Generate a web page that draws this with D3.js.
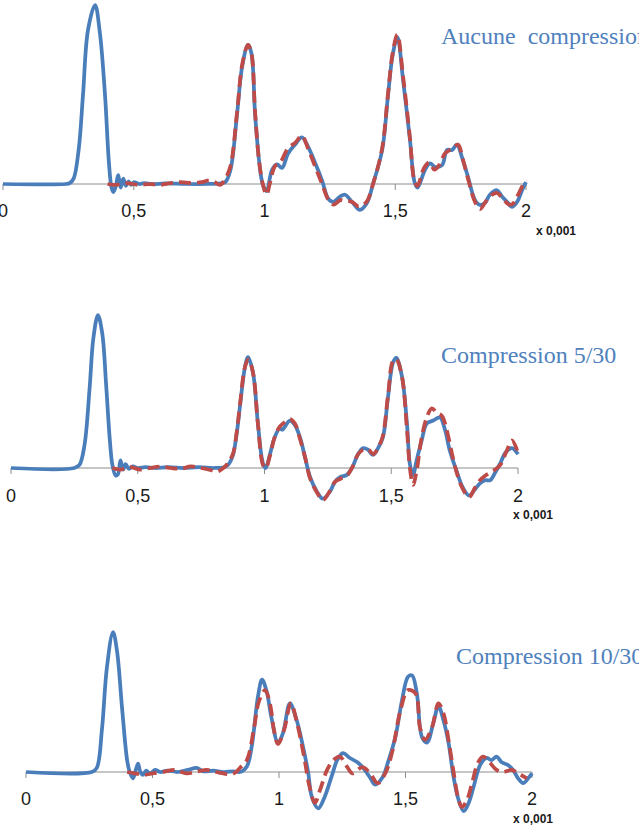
<!DOCTYPE html>
<html>
<head>
<meta charset="utf-8">
<script src="https://cdn.jsdelivr.net/npm/d3@7"></script>
<style>
  body { margin: 0; background: #fff; }
  svg { display: block; }
</style>
</head>
<body>
<script>
const width = 639;
const height = 839;

// data: x in units of 0,001 ; y relative to the first peak of each panel
const xTicks = [0, 0.5, 1, 1.5, 2];
const tickLabels = ["0", "0,5", "1", "1,5", "2"];
const unitLabel = "x 0,001";
const titles = ["Aucune  compression", "Compression 5/30", "Compression 10/30"];

const blueNone = [[0,0],[0.24,0],[0.255,0.005],[0.27,0.03],[0.29,0.2],[0.306,0.5],[0.325,0.86],[0.352,1.0],[0.37,0.85],[0.39,0.5],[0.405,0.12],[0.415,-0.02],[0.422,-0.045],[0.432,-0.01],[0.44,0.05],[0.45,-0.02],[0.46,0.03],[0.47,-0.01],[0.48,0.015],[0.49,-0.005],[0.50,0.01],[0.52,0],[0.54,0.005],[0.57,0],[0.62,0.003],[0.70,0],[0.78,0],[0.84,0.005],[0.85,0.01],[0.87,0.08],[0.895,0.39],[0.915,0.66],[0.937,0.777],[0.95,0.73],[0.964,0.39],[0.98,0.12],[0.993,0.0],[1.008,-0.04],[1.029,0.08],[1.048,0.11],[1.067,0.09],[1.09,0.17],[1.117,0.22],[1.143,0.26],[1.166,0.21],[1.193,0.12],[1.22,0.02],[1.243,-0.08],[1.262,-0.10],[1.289,-0.07],[1.308,-0.06],[1.335,-0.10],[1.365,-0.145],[1.392,-0.105],[1.415,0.0],[1.45,0.19],[1.472,0.49],[1.49,0.72],[1.508,0.82],[1.53,0.58],[1.556,0.25],[1.574,0.01],[1.585,-0.02],[1.614,0.08],[1.633,0.115],[1.652,0.095],[1.679,0.105],[1.698,0.19],[1.717,0.19],[1.736,0.22],[1.755,0.15],[1.778,0.04],[1.805,-0.09],[1.824,-0.117],[1.843,-0.105],[1.862,-0.06],[1.889,-0.035],[1.908,-0.07],[1.931,-0.105],[1.946,-0.128],[1.966,-0.10],[1.985,-0.035],[2.0,0.01]];
const redNone = [[0.40,0],[0.43,-0.005],[0.47,0.005],[0.52,-0.005],[0.56,0],[0.60,-0.005],[0.64,0.005],[0.68,0.01],[0.72,0.005],[0.76,0.01],[0.79,0.02],[0.81,0.01],[0.83,-0.005],[0.85,0.03],[0.87,0.1],[0.895,0.4],[0.915,0.67],[0.937,0.777],[0.95,0.73],[0.964,0.4],[0.98,0.12],[0.995,-0.01],[1.008,-0.06],[1.02,0.0],[1.04,0.1],[1.06,0.12],[1.09,0.2],[1.117,0.23],[1.143,0.27],[1.166,0.2],[1.193,0.1],[1.22,0.0],[1.245,-0.09],[1.265,-0.115],[1.29,-0.09],[1.31,-0.095],[1.335,-0.1],[1.36,-0.125],[1.39,-0.1],[1.415,0.0],[1.45,0.2],[1.472,0.5],[1.49,0.73],[1.508,0.835],[1.53,0.6],[1.556,0.26],[1.573,0.02],[1.585,-0.01],[1.61,0.09],[1.63,0.12],[1.65,0.08],[1.67,0.11],[1.69,0.17],[1.72,0.2],[1.74,0.22],[1.76,0.13],[1.78,0.02],[1.805,-0.1],[1.825,-0.14],[1.845,-0.1],[1.87,-0.06],[1.89,-0.05],[1.91,-0.08],[1.935,-0.115],[1.95,-0.11],[1.97,-0.06],[1.99,0.0],[2.0,0.02]];

const blue5 = [[0,0],[0.25,0],[0.27,0.02],[0.29,0.15],[0.31,0.52],[0.325,0.85],[0.343,1.0],[0.36,0.88],[0.375,0.55],[0.39,0.18],[0.40,0.02],[0.413,-0.05],[0.422,-0.04],[0.432,0.05],[0.442,-0.01],[0.452,0.025],[0.465,-0.005],[0.48,0.01],[0.50,0],[0.53,0.005],[0.57,0],[0.62,0.005],[0.68,0],[0.74,0.005],[0.80,0],[0.84,0.005],[0.856,0.02],[0.875,0.08],[0.89,0.22],[0.903,0.4],[0.923,0.66],[0.935,0.725],[0.955,0.62],[0.974,0.29],[0.994,0.03],[1.005,0.0],[1.02,0.08],[1.04,0.2],[1.06,0.26],[1.07,0.25],[1.10,0.31],[1.12,0.28],[1.14,0.2],[1.16,0.07],[1.18,-0.06],[1.207,-0.155],[1.23,-0.2],[1.258,-0.155],[1.278,-0.09],[1.298,-0.06],[1.325,-0.045],[1.345,0.0],[1.369,0.09],[1.389,0.13],[1.408,0.12],[1.428,0.085],[1.448,0.13],[1.467,0.2],[1.487,0.46],[1.507,0.69],[1.52,0.72],[1.542,0.6],[1.562,0.29],[1.574,0.02],[1.586,-0.045],[1.60,0.05],[1.62,0.18],[1.64,0.29],[1.665,0.31],[1.692,0.33],[1.712,0.25],[1.73,0.12],[1.76,-0.03],[1.78,-0.12],[1.807,-0.18],[1.83,-0.14],[1.85,-0.1],[1.87,-0.08],[1.89,-0.08],[1.91,-0.03],[1.93,0.03],[1.95,0.10],[1.976,0.13],[2.0,0.09]];
const red5 = [[0.40,0],[0.43,-0.01],[0.47,0.005],[0.51,-0.01],[0.55,0.0],[0.59,0.01],[0.63,0],[0.67,-0.005],[0.71,0.01],[0.75,0.0],[0.79,-0.015],[0.81,-0.025],[0.83,-0.01],[0.85,0.02],[0.875,0.09],[0.89,0.23],[0.903,0.41],[0.923,0.66],[0.937,0.71],[0.955,0.62],[0.974,0.29],[0.994,0.02],[1.005,0.0],[1.02,0.07],[1.04,0.2],[1.06,0.27],[1.08,0.3],[1.10,0.32],[1.12,0.29],[1.14,0.19],[1.16,0.07],[1.18,-0.07],[1.207,-0.16],[1.23,-0.21],[1.258,-0.15],[1.278,-0.09],[1.30,-0.07],[1.325,-0.05],[1.345,0.0],[1.369,0.09],[1.389,0.12],[1.41,0.12],[1.43,0.09],[1.45,0.14],[1.467,0.21],[1.487,0.47],[1.507,0.7],[1.52,0.71],[1.542,0.6],[1.562,0.25],[1.575,-0.02],[1.586,-0.11],[1.60,-0.02],[1.62,0.2],[1.64,0.33],[1.66,0.39],[1.68,0.36],[1.70,0.34],[1.72,0.24],[1.74,0.09],[1.76,-0.04],[1.78,-0.13],[1.807,-0.19],[1.83,-0.13],[1.85,-0.08],[1.87,-0.05],[1.89,-0.03],[1.91,-0.01],[1.93,0.02],[1.955,0.11],[1.976,0.18],[2.0,0.1]];

const blue10 = [[0,0],[0.26,0],[0.28,0.03],[0.30,0.3],[0.32,0.75],[0.344,1.0],[0.36,0.86],[0.38,0.45],[0.40,0.08],[0.41,0.0],[0.423,-0.045],[0.433,0.01],[0.443,0.06],[0.452,0.0],[0.462,-0.02],[0.475,0.01],[0.49,-0.01],[0.51,0.015],[0.53,0.0],[0.56,0.01],[0.6,0.0],[0.64,0.015],[0.675,0.03],[0.70,0.005],[0.74,0.01],[0.78,0.0],[0.82,0.005],[0.846,0.0],[0.873,0.04],[0.892,0.18],[0.917,0.54],[0.933,0.66],[0.952,0.57],[0.97,0.39],[0.996,0.21],[1.016,0.28],[1.043,0.49],[1.07,0.37],[1.095,0.18],[1.115,0.0],[1.13,-0.18],[1.155,-0.26],[1.18,-0.18],[1.21,-0.02],[1.23,0.085],[1.253,0.135],[1.28,0.10],[1.31,0.07],[1.33,0.035],[1.36,-0.04],[1.38,-0.09],[1.41,-0.035],[1.43,0.065],[1.46,0.25],[1.486,0.51],[1.51,0.68],[1.526,0.69],[1.545,0.56],[1.565,0.25],[1.585,0.21],[1.61,0.35],[1.63,0.47],[1.65,0.37],[1.67,0.21],[1.69,-0.035],[1.71,-0.2],[1.73,-0.28],[1.75,-0.22],[1.77,-0.1],[1.795,0.05],[1.82,0.1],[1.84,0.085],[1.86,0.11],[1.88,0.07],[1.905,0.05],[1.925,0.015],[1.945,-0.045],[1.965,-0.08],[1.985,-0.045],[2.0,-0.01]];
const red10 = [[0.40,0],[0.43,-0.01],[0.47,-0.02],[0.50,-0.01],[0.54,0.0],[0.59,0.015],[0.635,-0.01],[0.68,0.005],[0.715,0.015],[0.75,0.0],[0.78,-0.01],[0.806,-0.02],[0.83,0.0],[0.846,0.03],[0.873,0.085],[0.90,0.3],[0.92,0.5],[0.945,0.585],[0.965,0.48],[0.98,0.3],[0.996,0.2],[1.02,0.3],[1.047,0.49],[1.07,0.36],[1.10,0.1],[1.12,-0.1],[1.142,-0.22],[1.162,-0.13],[1.19,0.015],[1.215,0.085],[1.24,0.11],[1.27,0.035],[1.29,-0.01],[1.33,0.035],[1.36,-0.01],[1.39,-0.08],[1.42,-0.01],[1.447,0.14],[1.48,0.44],[1.51,0.585],[1.54,0.56],[1.557,0.32],[1.577,0.23],[1.605,0.32],[1.63,0.49],[1.65,0.42],[1.67,0.23],[1.69,0.0],[1.71,-0.2],[1.723,-0.25],[1.743,-0.2],[1.763,-0.08],[1.786,0.065],[1.806,0.11],[1.834,0.065],[1.86,0.015],[1.885,0],[1.92,0.015],[1.945,-0.01],[1.98,-0.045]];

const blueSeries = [blueNone, blue5, blue10];
const redSeries = [redNone, red5, red10];

// layout of the three panels (pixels)
const panels = [
  { x0: 3, x1: 526, y0: 184, amp: 179, titleX: 441, titleY: 44, unitX: 536, unitY: 235, tickY: 217 },
  { x0: 11, x1: 518, y0: 468, amp: 153, titleX: 441, titleY: 363, unitX: 513, unitY: 519, tickY: 502 },
  { x0: 26, x1: 532, y0: 772, amp: 140, titleX: 456, titleY: 664, unitX: 513, unitY: 823, tickY: 805 },
];

const blue = "#4a7ebb";
const red = "#be4b48";

const svg = d3
  .select("body")
  .append("svg")
  .attr("width", width)
  .attr("height", height);

panels.forEach((p, i) => {
  const x = d3.scaleLinear().domain([0, 2]).range([p.x0, p.x1]);
  const y = d3.scaleLinear().domain([0, 1]).range([p.y0, p.y0 - p.amp]);
  const g = svg.append("g");

  // axis line + ticks
  g.append("line")
    .attr("x1", x(0))
    .attr("x2", x(2))
    .attr("y1", p.y0)
    .attr("y2", p.y0)
    .attr("stroke", "#8c8c8c")
    .attr("stroke-width", 1);

  g.selectAll("line.tick")
    .data(xTicks)
    .join("line")
    .attr("class", "tick")
    .attr("x1", (d) => x(d))
    .attr("x2", (d) => x(d))
    .attr("y1", p.y0)
    .attr("y2", p.y0 + 6)
    .attr("stroke", "#8c8c8c")
    .attr("stroke-width", 1);

  g.selectAll("text.tl")
    .data(xTicks)
    .join("text")
    .attr("class", "tl")
    .attr("x", (d) => x(d))
    .attr("y", p.tickY)
    .attr("text-anchor", "middle")
    .attr("font-family", "Liberation Sans, Arial, sans-serif")
    .attr("font-size", 18)
    .attr("fill", "#1a1a1a")
    .text((d, j) => tickLabels[j]);

  g.append("text")
    .attr("x", p.unitX)
    .attr("y", p.unitY)
    .attr("font-family", "Liberation Sans, Arial, sans-serif")
    .attr("font-weight", "bold")
    .attr("font-size", 12)
    .attr("fill", "#1a1a1a")
    .text(unitLabel);

  const line = d3
    .line()
    .x((d) => x(d[0]))
    .y((d) => y(d[1]))
    .curve(d3.curveCatmullRom.alpha(0.5));

  g.append("path")
    .attr("d", line(blueSeries[i]))
    .attr("fill", "none")
    .attr("stroke", blue)
    .attr("stroke-width", 3.75)
    .attr("stroke-linejoin", "round");

  g.append("path")
    .attr("d", line(redSeries[i]))
    .attr("fill", "none")
    .attr("stroke", red)
    .attr("stroke-width", 3.75)
    .attr("stroke-dasharray", "12,6");

  g.append("text")
    .attr("x", p.titleX)
    .attr("y", p.titleY)
    .attr("font-family", "Liberation Serif, Times New Roman, serif")
    .attr("font-size", 24)
    .attr("fill", "#4f81bd")
    .style("white-space", "pre")
    .text(titles[i]);
});
</script>
</body>
</html>
